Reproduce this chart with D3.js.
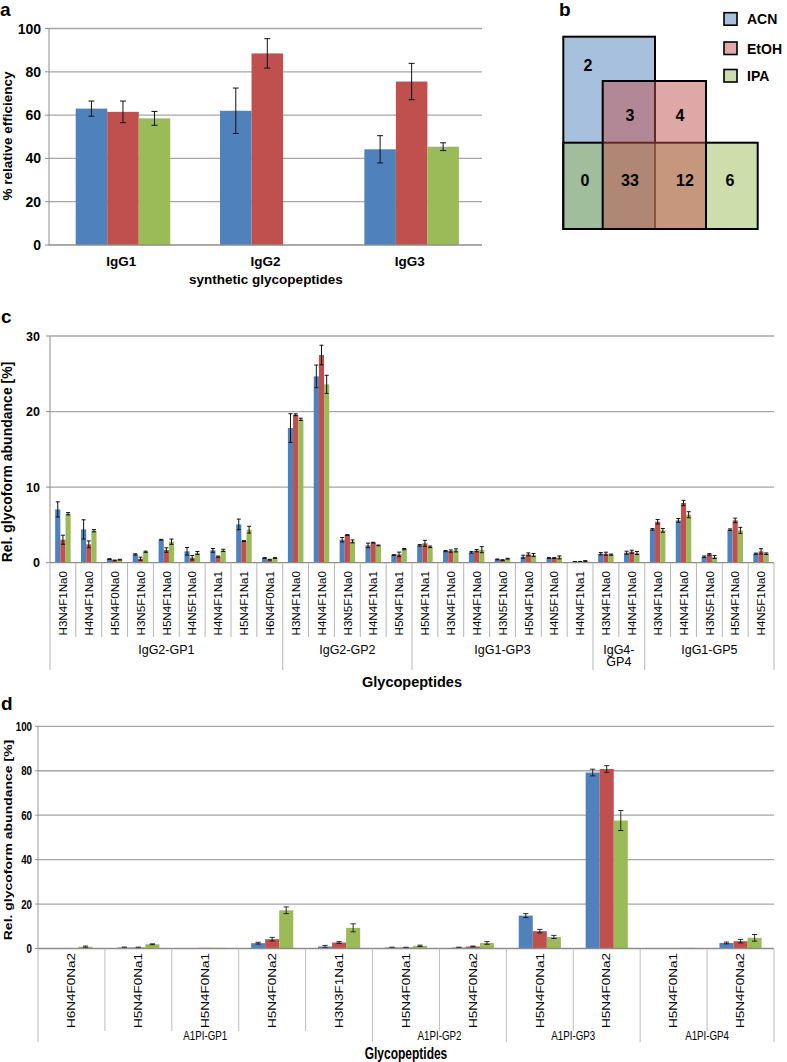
<!DOCTYPE html>
<html><head><meta charset="utf-8">
<script src="https://cdn.jsdelivr.net/npm/d3@7"></script>
<style>
body{margin:0;background:#fff;}
svg{display:block;font-family:"Liberation Sans",Arial,sans-serif;}
</style></head>
<body><svg id="c" width="787" height="1062"></svg>
<script>
// ---------- DATA ----------
const seriesNames = ["ACN","EtOH","IPA"];
const seriesColors = ["#4f81bd","#c0504d","#9bbb59"];

// panel a
const catsA = ["IgG1","IgG2","IgG3"];
const acnA = [63, 62, 44.2];      const acnAErr = [3.5, 10.5, 6.3];
const etohA = [61.5, 88.5, 75.5]; const etohAErr = [5, 6.8, 8.4];
const ipaA = [58.5, null, 45.4];  const ipaAErr = [3.2, null, 1.8];
const ticksA = [0,20,40,60,80,100];

// panel b (Venn counts)
const vennLabels = ["ACN only","ACN∩EtOH","EtOH only","ACN∩IPA","all","EtOH∩IPA","IPA only"];
const vennCounts = [2, 3, 4, 0, 33, 12, 6];

// panel c
const catsC = ["H3N4F1Na0","H4N4F1Na0","H5N4F0Na0","H3N5F1Na0","H5N4F1Na0","H4N5F1Na0","H4N4F1Na1","H5N4F1Na1","H6N4F0Na1",
  "H3N4F1Na0","H4N4F1Na0","H3N5F1Na0","H4N4F1Na1","H5N4F1Na1",
  "H5N4F1Na1","H3N4F1Na0","H4N4F1Na0","H3N5F1Na0","H5N4F1Na0","H4N5F1Na0","H4N4F1Na1",
  "H3N4F1Na0","H4N4F1Na0",
  "H3N4F1Na0","H4N4F1Na0","H3N5F1Na0","H5N4F1Na0","H4N5F1Na0"];
const groupNamesC = ["IgG2-GP1","IgG2-GP2","IgG1-GP3","IgG4-|GP4","IgG1-GP5"];
const groupSizesC = [9,5,7,2,5];
const acnC = [7.05,4.41,0.48,1.1,3.04,1.5,1.63,5.07,0.62,17.82,24.66,3.04,2.29,1.01,2.3,1.54,1.37,0.44,0.79,0.62,0.13,1.19,1.32,4.41,5.6,0.79,4.37,1.19];
const acnCErr = [1.0,1.27,0.05,0.08,0.05,0.5,0.25,0.7,0.05,1.9,1.5,0.3,0.3,0.05,0.1,0.08,0.1,0.05,0.2,0.05,0.03,0.15,0.2,0.1,0.25,0.1,0.1,0.08];
const etohC = [3.04,2.43,0.3,0.53,1.68,0.66,0.8,2.87,0.4,19.58,27.48,3.66,2.65,1.1,2.56,1.54,1.59,0.35,1.1,0.62,0.13,1.19,1.45,5.42,7.9,1.1,5.6,1.5];
const etohCErr = [0.6,0.45,0.05,0.2,0.3,0.3,0.08,0.05,0.05,0.12,1.3,0.05,0.05,0.3,0.4,0.15,0.15,0.05,0.2,0.05,0.03,0.2,0.2,0.3,0.35,0.1,0.3,0.35];
const ipaC = [6.48,4.23,0.4,1.45,2.78,1.28,1.63,4.37,0.62,18.97,23.6,2.82,2.29,1.8,2.1,1.63,1.72,0.53,1.01,0.7,0.22,1.06,1.28,4.28,6.35,0.75,4.28,1.19];
const ipaCErr = [0.15,0.15,0.05,0.08,0.35,0.2,0.15,0.45,0.05,0.15,1.2,0.2,0.05,0.08,0.1,0.2,0.4,0.05,0.2,0.2,0.05,0.08,0.2,0.25,0.4,0.2,0.4,0.1];
const ticksC = [0,10,20,30];

// panel d
const catsD = ["H6N4F0Na2","H5N4F0Na1","H5N4F0Na1","H5N4F0Na2","H3N3F1Na1","H5N4F0Na1","H5N4F0Na2","H5N4F0Na1","H5N4F0Na2","H5N4F0Na1","H5N4F0Na2"];
const groupNamesD = ["A1PI-GP1","A1PI-GP2","A1PI-GP3","A1PI-GP4"];
const groupSizesD = [5,2,2,2];
const acnD = [0,0.45,0.1,2.4,0.9,0.45,0.45,14.8,79.2,0,2.5];
const acnDErr = [0,0.2,0,0.4,0.5,0.15,0.15,0.9,1.5,0,0.4];
const etohD = [0,0.45,0.3,4.2,2.7,0.45,0.9,7.8,80.8,0,3.3];
const etohDErr = [0,0.15,0,0.8,0.4,0.1,0.2,0.8,1.5,0,0.8];
const ipaD = [0.8,1.9,0.3,17.2,9.3,1.2,2.5,5.2,57.6,0.3,4.8];
const ipaDErr = [0.3,0.2,0,1.5,1.8,0.3,0.6,0.7,4.5,0,1.5];
const ticksD = [0,20,40,60,80,100];

// ---------- DRAW ----------
const svg = d3.select("#c");
svg.append("rect").attr("width",787).attr("height",1062).attr("fill","#fff");
const GRID = "#a6a6a6", AXIS = "#8c8c8c";

function barPanel(g, o){
  const x = d3.scaleBand().domain(d3.range(o.cats.length)).range([o.x0,o.x1]);
  const x1 = d3.scaleBand().domain(d3.range(3)).range([x.bandwidth()*o.pin, x.bandwidth()*(1-o.pout)]);
  const y = d3.scaleLinear().domain(o.domain).range([o.y0,o.y1]);
  g.selectAll(null).data(o.ticks.filter(t=>t>0)).enter().append("line")
    .attr("x1",o.x0).attr("x2",o.x1).attr("y1",d=>y(d)).attr("y2",d=>y(d))
    .attr("stroke",GRID).attr("stroke-width",1.3);
  g.append("line").attr("x1",o.x0).attr("x2",o.x0).attr("y1",y(o.domain[0])).attr("y2",y(o.domain[1])).attr("stroke",AXIS);
  g.selectAll(null).data(o.ticks).enter().append("line")
    .attr("x1",o.x0-4).attr("x2",o.x0).attr("y1",d=>y(d)).attr("y2",d=>y(d)).attr("stroke",AXIS);
  g.selectAll(null).data(o.ticks).enter().append("text")
    .attr("x",o.x0-o.tickPad).attr("y",d=>y(d)).attr("dy","0.36em")
    .attr("text-anchor","end").attr("font-weight","bold").attr("font-size",o.tickFont).attr("fill","#000")
    .text(d=>d);
  const series = o.series;
  series.forEach((s,si)=>{
    const data = s.v.map((v,i)=>({v,i,e:s.e[i]})).filter(d=>d.v!=null);
    g.selectAll(null).data(data).enter().append("rect")
      .attr("x",d=>x(d.i)+x1(si)).attr("width",x1.bandwidth())
      .attr("y",d=>y(d.v)).attr("height",d=>y(0)-y(d.v))
      .attr("fill",seriesColors[si]);
  });
  series.forEach((s,si)=>{
    const data = s.v.map((v,i)=>({v,i,e:s.e[i]})).filter(d=>d.v!=null && d.e>0);
    const cx = d=>x(d.i)+x1(si)+x1.bandwidth()/2;
    const eg = g.selectAll(null).data(data).enter().append("g").attr("stroke","#111").attr("stroke-width",1);
    eg.append("line").attr("x1",cx).attr("x2",cx).attr("y1",d=>y(d.v+d.e)).attr("y2",d=>y(Math.max(0,d.v-d.e)));
    eg.append("line").attr("x1",d=>cx(d)-o.cap).attr("x2",d=>cx(d)+o.cap).attr("y1",d=>y(d.v+d.e)).attr("y2",d=>y(d.v+d.e));
    eg.append("line").attr("x1",d=>cx(d)-o.cap).attr("x2",d=>cx(d)+o.cap).attr("y1",d=>y(Math.max(0,d.v-d.e))).attr("y2",d=>y(Math.max(0,d.v-d.e)));
  });
  g.append("line").attr("x1",o.x0).attr("x2",o.x1).attr("y1",y(0)).attr("y2",y(0)).attr("stroke",AXIS).attr("stroke-width",1.3);
  return {x,y};
}

// ---- panel a ----
const ga = svg.append("g");
const pa = barPanel(ga,{cats:catsA,x0:49,x1:482,y0:245,y1:28.5,domain:[0,100],ticks:ticksA,pin:0.185,pout:0.16,
  series:[{v:acnA,e:acnAErr},{v:etohA,e:etohAErr},{v:ipaA,e:ipaAErr}],cap:3,tickPad:8,tickFont:"14px"});
ga.selectAll(null).data(catsA).enter().append("text")
  .attr("x",(d,i)=>pa.x(i)+pa.x.bandwidth()/2).attr("y",266).attr("text-anchor","middle")
  .attr("font-weight","bold").attr("font-size","13.5px").text(d=>d);
ga.append("text").attr("x",266).attr("y",284).attr("text-anchor","middle").attr("font-weight","bold").attr("font-size","13.5px").text("synthetic glycopeptides");
ga.append("text").attr("transform","translate(12,136) rotate(-90)").attr("text-anchor","middle").attr("font-weight","bold").attr("font-size","13.5px").text("% relative efficiency");
svg.append("text").attr("x",0).attr("y",16).attr("font-weight","bold").attr("font-size","19px").text("a");

// ---- panel b ----
svg.append("text").attr("x",559).attr("y",16).attr("font-weight","bold").attr("font-size","19px").text("b");
const gb = svg.append("g");
const colsB = [563.3,602.7,655,706,757.7];
const rowsB = [36.7,81,142.7,229];
const rectsB = [
  {c:"#4f81bd",x0:0,x1:2,y0:0,y1:3},
  {c:"#9bbb59",x0:0,x1:4,y0:2,y1:3},
  {c:"#c0504d",x0:1,x1:3,y0:1,y1:3}
];
rectsB.forEach(r=>{
  gb.append("rect").attr("x",colsB[r.x0]).attr("y",rowsB[r.y0]).attr("width",colsB[r.x1]-colsB[r.x0]).attr("height",rowsB[r.y1]-rowsB[r.y0])
    .attr("fill",r.c).attr("fill-opacity",0.5).attr("stroke","#000").attr("stroke-width",2);
});
const vennPos = [[588,65],[630,115],[680,115],[585,180],[630,180],[685,180],[730,180]];
gb.selectAll(null).data(vennCounts).enter().append("text")
  .attr("x",(d,i)=>vennPos[i][0]).attr("y",(d,i)=>vennPos[i][1]).attr("dy","0.36em").attr("text-anchor","middle")
  .attr("font-weight","bold").attr("font-size","16px").text(d=>d);
const legFill = ["#a7c0de","#e0a8a6","#cddcac"];
const legY = [12.7,42,69.5];
seriesNames.forEach((n,i)=>{
  gb.append("rect").attr("x",724).attr("y",legY[i]).attr("width",13).attr("height",12.5).attr("fill",legFill[i]).attr("stroke","#000").attr("stroke-width",1.6);
  gb.append("text").attr("x",747).attr("y",legY[i]+6.5).attr("dy","0.36em").attr("font-weight","bold").attr("font-size","14px").text(n);
});

// ---- panel c ----
svg.append("text").attr("x",1).attr("y",323).attr("font-weight","bold").attr("font-size","19px").text("c");
const gc = svg.append("g");
const pc = barPanel(gc,{cats:catsC,x0:50,x1:774,y0:562.7,y1:336,domain:[0,30],ticks:ticksC,pin:0.2,pout:0.2,
  series:[{v:acnC,e:acnCErr},{v:etohC,e:etohCErr},{v:ipaC,e:ipaCErr}],cap:2,tickPad:10,tickFont:"12.5px"});
gc.append("text").attr("transform","translate(12,462) rotate(-90)").attr("text-anchor","middle").attr("font-weight","bold").attr("font-size","14px").text("Rel. glycoform abundance [%]");
const bwC = pc.x.bandwidth();
gc.selectAll(null).data(catsC).enter().append("text")
  .attr("transform",(d,i)=>`translate(${pc.x(i)+bwC/2+4.2},571) rotate(-90)`).attr("text-anchor","end")
  .attr("font-size","11.6px").text(d=>d);
let bounds = [0]; groupSizesC.forEach(s=>bounds.push(bounds[bounds.length-1]+s));
gc.selectAll(null).data(d3.range(catsC.length+1)).enter().append("line")
  .attr("x1",i=>pc.x(0)+i*bwC).attr("x2",i=>pc.x(0)+i*bwC)
  .attr("y1",562.7).attr("y2",i=>bounds.includes(i)?670:637).attr("stroke","#b5b5b5").attr("stroke-width",1);
groupNamesC.forEach((n,gi)=>{
  const cx = pc.x(0)+(bounds[gi]+bounds[gi+1])/2*bwC;
  const lines = n.split("|");
  lines.forEach((l,li)=>{
    gc.append("text").attr("x",cx).attr("y",654+li*12).attr("text-anchor","middle").attr("font-size","12.5px").text(l);
  });
});
gc.append("text").attr("x",412).attr("y",687).attr("text-anchor","middle").attr("font-weight","bold").attr("font-size","14.5px").text("Glycopeptides");

// ---- panel d (horizontally condensed) ----
svg.append("text").attr("x",1).attr("y",710).attr("font-weight","bold").attr("font-size","19px").text("d");
const SX = 0.75;
const gd = svg.append("g").attr("transform",`scale(${SX},1)`);
const dx0 = 38/SX, dx1 = 774/SX;
const pd = barPanel(gd,{cats:catsD,x0:dx0,x1:dx1,y0:948.5,y1:726.3,domain:[0,100],ticks:ticksD,pin:0.185,pout:0.185,
  series:[{v:acnD,e:acnDErr},{v:etohD,e:etohDErr},{v:ipaD,e:ipaDErr}],cap:3.5,tickPad:8,tickFont:"13px"});
gd.append("text").attr("transform",`translate(${12/SX},840) rotate(-90)`).attr("text-anchor","middle").attr("font-weight","bold").attr("font-size","14px").text("Rel. glycoform abundance [%]");
const bwD = pd.x.bandwidth();
gd.selectAll(null).data(catsD).enter().append("text")
  .attr("transform",(d,i)=>`translate(${pd.x(i)+bwD/2+5},953) rotate(-90)`).attr("text-anchor","end")
  .attr("font-size","13.5px").text(d=>d);
let boundsD = [0]; groupSizesD.forEach(s=>boundsD.push(boundsD[boundsD.length-1]+s));
gd.selectAll(null).data(d3.range(catsD.length+1)).enter().append("line")
  .attr("x1",i=>pd.x(0)+i*bwD).attr("x2",i=>pd.x(0)+i*bwD)
  .attr("y1",948.5).attr("y2",i=>boundsD.includes(i)?1042:1031).attr("stroke","#b5b5b5").attr("stroke-width",1);
groupNamesD.forEach((n,gi)=>{
  const cx = pd.x(0)+(boundsD[gi]+boundsD[gi+1])/2*bwD;
  gd.append("text").attr("x",cx).attr("y",1040).attr("text-anchor","middle").attr("font-size","13px").text(n);
});
gd.append("text").attr("x",(dx0+dx1)/2).attr("y",1059).attr("text-anchor","middle").attr("font-weight","bold").attr("font-size","16px").text("Glycopeptides");
</script></body></html>
